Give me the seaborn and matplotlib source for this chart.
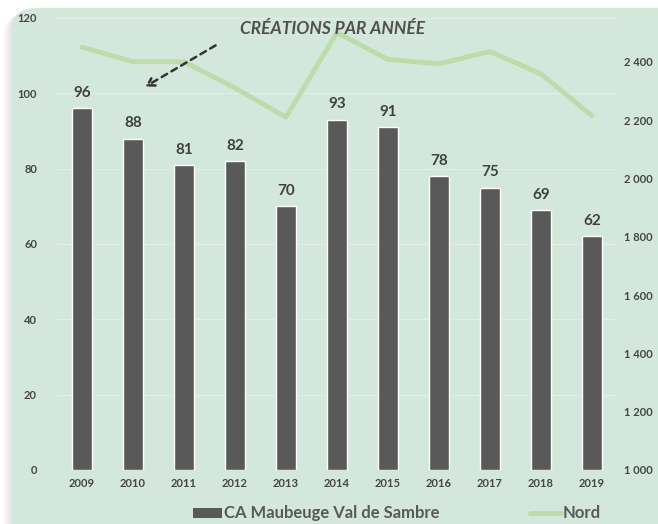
import numpy as np
import pandas as pd
import seaborn as sns
import matplotlib.pyplot as plt
from matplotlib.patches import FancyBboxPatch, FancyArrowPatch

years = ['2009', '2010', '2011', '2012', '2013', '2014', '2015', '2016', '2017', '2018', '2019']
ca_maubeuge = [96, 88, 81, 82, 70, 93, 91, 78, 75, 69, 62]
nord = [2450, 2400, 2400, 2310, 2210, 2500, 2408, 2393, 2435, 2358, 2215]

df = pd.DataFrame({'Année': years, 'CA': ca_maubeuge, 'Nord': nord})
df['pos'] = np.arange(len(years))

sns.set_style('white')
plt.rcParams['font.family'] = ['Lato', 'DejaVu Sans']
plt.rcParams['font.weight'] = 'bold'

bg = '#d4e7dc'
bar_col = '#595959'
line_col = '#bedcaa'
txt = '#595959'
tick_col = '#454545'

fig = plt.figure(figsize=(6.58, 5.24), dpi=100, facecolor='white')

# rounded panel with soft shadow
for i in range(4):
    off = 0.003 * (i + 1)
    fig.patches.append(FancyBboxPatch((0.018 - off, -0.1 - off), 1.1, 1.085,
                                      boxstyle='round,pad=0,rounding_size=0.04',
                                      transform=fig.transFigure, facecolor='#888888',
                                      edgecolor='none', alpha=0.05, zorder=0))
fig.patches.append(FancyBboxPatch((0.018, -0.1), 1.1, 1.085,
                                  boxstyle='round,pad=0,rounding_size=0.04',
                                  transform=fig.transFigure, facecolor=bg,
                                  edgecolor='none', zorder=1))

ax = fig.add_axes([56.5 / 658, 54 / 524, 561 / 658, 452 / 524])
ax.set_facecolor('none')
ax.set_zorder(2)

sns.barplot(data=df, x='Année', y='CA', color=bar_col, width=0.4, saturation=1,
            ax=ax, zorder=3)
ax.set_ylim(0, 120)
ax.set_yticks(range(0, 121, 20))
ax.set_xlim(-0.5, len(years) - 0.5)
ax.grid(axis='y', color='#e4ece6', linewidth=0.8, zorder=0)
ax.set_axisbelow(True)
for s in ax.spines.values():
    s.set_visible(False)
ax.set_xlabel('')
ax.set_ylabel('')
ax.tick_params(axis='both', length=0, colors=tick_col, labelsize=8)
ax.tick_params(axis='y', pad=14)
ax.tick_params(axis='x', pad=6)
ax.bar_label(ax.containers[0], padding=6, fontsize=11, fontweight='bold', color='#404040')

ax2 = ax.twinx()
sns.lineplot(data=df, x='pos', y='Nord', color=line_col, linewidth=3.5, ax=ax2,
             solid_joinstyle='round', solid_capstyle='round')
ax2.set_ylim(1000, 2550)
ax2.set_yticks(range(1000, 2401, 200))
ax2.set_yticklabels([f'{v:,}'.replace(',', ' ') for v in range(1000, 2401, 200)])
ax2.set_xlim(-0.5, len(years) - 0.5)
for s in ax2.spines.values():
    s.set_visible(False)
ax2.set_ylabel('')
ax2.tick_params(axis='y', length=0, colors=tick_col, labelsize=8, pad=5)

fig.text(0.505, 0.945, 'CRÉATIONS PAR ANNÉE', ha='center', va='center', fontsize=12.5,
         style='italic', fontweight='bold', color='#505050', zorder=5)
fig.patches.append(FancyArrowPatch(
    (218 / 658, 1 - 44 / 524), (143 / 658, 1 - 88 / 524), transform=fig.transFigure,
    arrowstyle='->,head_length=5,head_width=3', linestyle=(0, (2.5, 2)), linewidth=1.8,
    color='#333333', zorder=5))

# legend
fig.patches.append(plt.Rectangle((193 / 658, 1 - 518 / 524), 29 / 658, 10 / 524,
                                 transform=fig.transFigure, facecolor=bar_col,
                                 edgecolor='none', zorder=5))
fig.text(224 / 658, 1 - 513 / 524, 'CA Maubeuge Val de Sambre', ha='left', va='center',
         fontsize=12, color=txt, fontweight='bold', zorder=5)
fig.lines.append(plt.Line2D([530 / 658, 561 / 658], [1 - 513 / 524, 1 - 513 / 524],
                            transform=fig.transFigure, color=line_col, linewidth=3.5, zorder=5))
fig.text(563 / 658, 1 - 513 / 524, 'Nord', ha='left', va='center',
         fontsize=12, color=txt, fontweight='bold', zorder=5)

fig.savefig('out.png', dpi=100, facecolor='white')
